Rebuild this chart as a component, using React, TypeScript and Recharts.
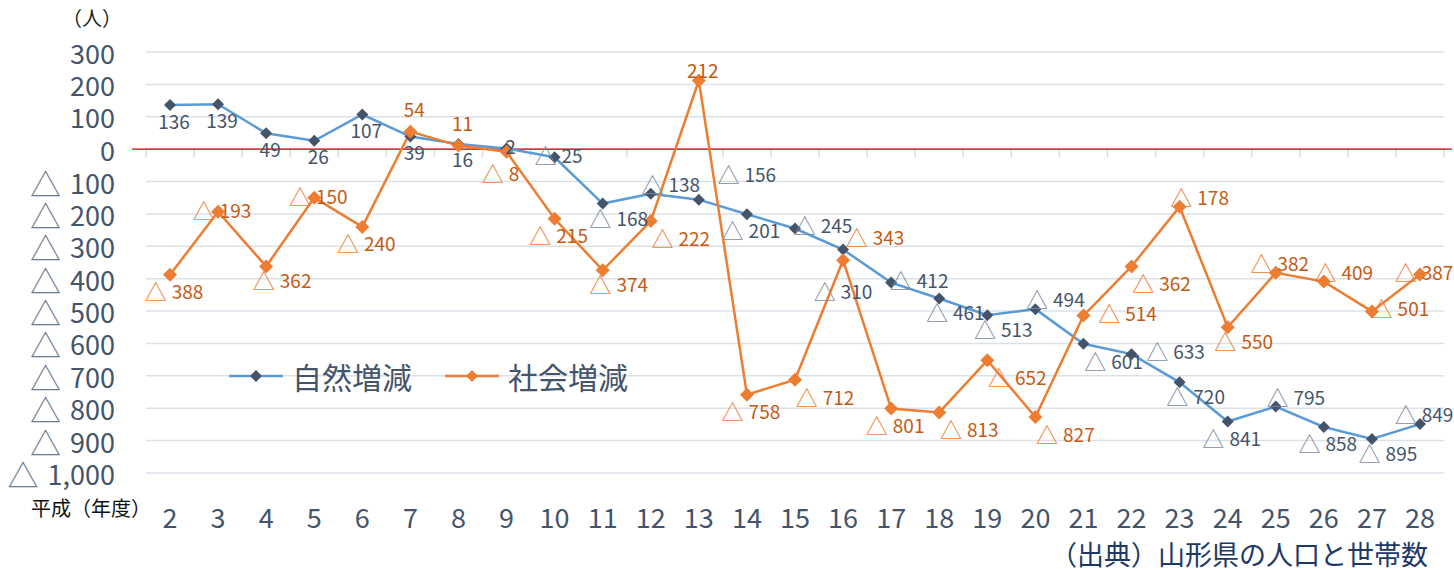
import React from 'react';
import { LineChart, Line, XAxis, YAxis, CartesianGrid, ReferenceLine, Legend } from 'recharts';

// 平成2〜28年度
const years = ['2', '3', '4', '5', '6', '7', '8', '9', '10', '11', '12', '13', '14', '15', '16', '17', '18', '19', '20', '21', '22', '23', '24', '25', '26', '27', '28'];

// 自然増減
const naturalChange = [136, 139, 49, 26, 107, 39, 16, 2, -25, -168, -138, -156, -201, -245, -310, -412, -461, -513, -494, -601, -633, -720, -841, -795, -858, -895, -849];

// 社会増減
const socialChange = [-388, -193, -362, -150, -240, 54, 11, -8, -215, -374, -222, 212, -758, -712, -343, -801, -813, -652, -827, -514, -362, -178, -550, -382, -409, -501, -387];

const yTicks = [300, 200, 100, 0, -100, -200, -300, -400, -500, -600, -700, -800, -900, -1000];

// where each data label sits relative to its point
const naturalPlaces = ['b', 'b', 'b', 'b', 'b', 'b', 'b', 'c', 'c', 'br', 'ar', 'aar', 'b', 'r', 'bb', 'r', 'br', 'br', 'ar', 'rb', 'rr', 'br', 'b', 'ar', 'b', 'br', 'u'];
const socialPlaces = ['b', 'c', 'br', 'c', 'b', 'a', 'a', 'bl', 'b', 'br', 'rb', 'u', 'b', 'rb', 'ra', 'b', 'rb', 'rb', 'rb', 'rr', 'rb', 'ar', 'br', 'u', 'ar', 'r', 'c'];

const PLACE: Record<string, [number, number]> = {
  b: [4, 15],
  bb: [0, 40],
  u: [4, -11],
  a: [4, -23],
  c: [4, -3],
  r: [28, -4],
  rr: [44, -4],
  br: [16, 13],
  rb: [30, 16],
  ar: [20, -11],
  aar: [48, -27],
  ra: [32, -24],
  bl: [-6, 20],
};

const FONT = '"Noto Sans CJK JP", "Noto Sans", sans-serif';
const AXIS_COLOR = '#44546A';
const BLUE = '#5B9BD5';
const ORANGE = '#ED7D31';

const chartData = years.map((year, i) => ({
  year,
  natural: naturalChange[i],
  social: socialChange[i],
}));

const YTick = ({ x, y, payload }: any) => {
  const v = payload.value as number;
  return (
    <text x={x - 31} y={y} textAnchor="end" dominantBaseline="central" fontSize={27} fontFamily={FONT} fill={AXIS_COLOR}>
      {v < 0 ? (
        <>
          <tspan fill="#6E7C91" fontSize={31}>△</tspan>
          <tspan dx={9}>{Math.abs(v).toLocaleString('en-US')}</tspan>
        </>
      ) : (
        v
      )}
    </text>
  );
};

const XTick = ({ x, y, payload }: any) => (
  <text x={x} y={y + 43} textAnchor="middle" dominantBaseline="central" fontSize={27} fontFamily={FONT} fill={AXIS_COLOR}>
    {payload.value}
  </text>
);

const diamond = (color: string, r: number) => (props: any) => {
  const { cx, cy, index } = props;
  if (cx == null || cy == null) return <g key={index} />;
  return <path key={index} d={`M${cx},${cy - r}L${cx + r},${cy}L${cx},${cy + r}L${cx - r},${cy}Z`} fill={color} />;
};

const makeLabel = (places: string[], color: string, triColor: string) => (props: any) => {
  const { x, y, value, index } = props;
  const [dx, dy] = PLACE[places[index]] || [0, 14];
  const v = value as number;
  return (
    <text key={index} x={x + dx} y={y + dy} textAnchor="middle" dominantBaseline="central" fontSize={19} fontFamily={FONT} fill={color}>
      {v < 0 ? (
        <>
          <tspan fill={triColor} fontSize={22}>△</tspan>
          <tspan dx={5}>{Math.abs(v)}</tspan>
        </>
      ) : (
        v
      )}
    </text>
  );
};

// red zero line, running a bit past the plot, with small category ticks under it
const ZeroLine = (props: any) => {
  const { x1, x2, y1 } = props;
  const n = years.length;
  const step = (x2 - x1) / n;
  const ticks = Array.from({ length: n + 1 }, (_, k) => x1 + k * step);
  return (
    <g>
      {ticks.map((tx, k) => (
        <line key={k} x1={tx} x2={tx} y1={y1} y2={y1 + 8} stroke="#D9DEE5" strokeWidth={1.5} />
      ))}
      <line x1={x1 - 14} x2={x2 + 8} y1={y1} y2={y1} stroke="#C00000" strokeWidth={1.2} />
    </g>
  );
};

const LegendContent = () => {
  const items = [
    { name: '自然増減', line: BLUE, marker: AXIS_COLOR },
    { name: '社会増減', line: ORANGE, marker: ORANGE },
  ];
  return (
    <div style={{ display: 'flex', alignItems: 'center', fontFamily: FONT }}>
      {items.map((it) => (
        <div key={it.name} style={{ display: 'flex', alignItems: 'center', marginRight: 33 }}>
          <svg width={54} height={16}>
            <line x1={0} x2={54} y1={8} y2={8} stroke={it.line} strokeWidth={2.5} />
            <path d="M27,2L33,8L27,14L21,8Z" fill={it.marker} />
          </svg>
          <span style={{ fontSize: 30, color: AXIS_COLOR, marginLeft: 9, lineHeight: 1 }}>{it.name}</span>
        </div>
      ))}
    </div>
  );
};

export default function App() {
  return (
    <div style={{ position: 'absolute', left: 0, top: 0, width: 1454, height: 570, background: '#fff', fontFamily: FONT }}>
      <div style={{ position: 'absolute', left: 62, top: 8, fontSize: 20, lineHeight: 1, color: '#222' }}>（人）</div>
      <LineChart width={1454} height={570} data={chartData} margin={{ top: 52, right: 10, bottom: 0, left: 0 }}>
        <CartesianGrid vertical={false} stroke="#DCE1E8" strokeWidth={1.5} />
        <XAxis
          dataKey="year"
          interval={0}
          axisLine={false}
          tickLine={false}
          tickSize={0}
          tickMargin={0}
          height={97}
          padding={{ left: 24, right: 24 }}
          tick={<XTick />}
        />
        <YAxis
          domain={[-1000, 300]}
          ticks={yTicks}
          interval={0}
          width={146}
          axisLine={false}
          tickLine={false}
          tickSize={0}
          tickMargin={0}
          tick={<YTick />}
        />
        <ReferenceLine y={0} shape={<ZeroLine />} />
        <Legend
          verticalAlign="middle"
          align="center"
          content={<LegendContent />}
          wrapperStyle={{ left: 229, top: 361, width: 'auto' }}
        />
        <Line
          dataKey="natural"
          name="自然増減"
          stroke={BLUE}
          strokeWidth={2.5}
          dot={diamond(AXIS_COLOR, 6)}
          activeDot={false}
          label={makeLabel(naturalPlaces, AXIS_COLOR, '#7F8CA0')}
          isAnimationActive={false}
        />
        <Line
          dataKey="social"
          name="社会増減"
          stroke={ORANGE}
          strokeWidth={2.5}
          dot={diamond(ORANGE, 7)}
          activeDot={false}
          label={makeLabel(socialPlaces, '#C55A11', ORANGE)}
          isAnimationActive={false}
        />
      </LineChart>
      <div style={{ position: 'absolute', left: 31, top: 498, fontSize: 20, lineHeight: 1, color: '#111', whiteSpace: 'nowrap' }}>平成（年度）</div>
      <div style={{ position: 'absolute', right: 26, top: 540, fontSize: 27, lineHeight: 1, color: '#203864', whiteSpace: 'nowrap' }}>（出典）山形県の人口と世帯数</div>
    </div>
  );
}
